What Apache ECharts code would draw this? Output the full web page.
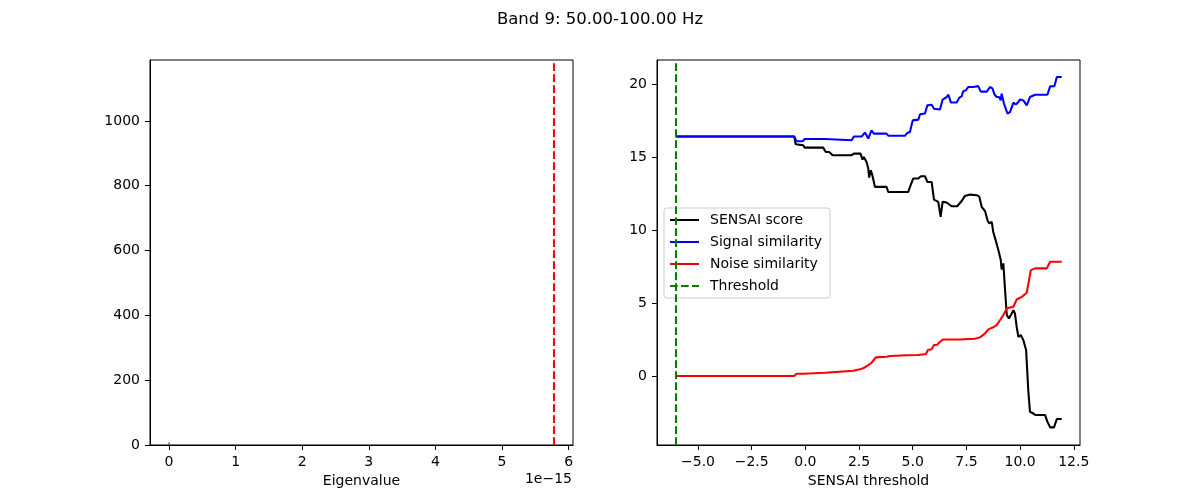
<!DOCTYPE html>
<html>
<head>
<meta charset="utf-8">
<script src="https://cdn.jsdelivr.net/npm/echarts@6/dist/echarts.min.js"></script>
<style>
	html, body { margin: 0; padding: 0; background: #fff; }
	#chart { width: 1200px; height: 500px; }
</style>
</head>
<body>
<div id="chart"></div>
<script>
// Left panel: eigenvalues (x in units of 1e-15)
var histX = [0];
var histCounts = [9];
var maxEigen = 5.78;
var eigenTicks = [0, 1, 2, 3, 4, 5, 6];
var countTicks = [0, 200, 400, 600, 800, 1000];

// Right panel: curves over SENSAI threshold
var scoreX = [-6.04, -0.52, -0.45, -0.38, -0.10, -0.03, 0.83, 0.95, 1.11, 1.27, 2.15, 2.26, 2.57, 2.66, 2.72, 2.85, 2.93, 2.97, 3.05, 3.13, 3.24, 3.78, 3.86, 4.79, 4.90, 5.02, 5.26, 5.38, 5.57, 5.68, 5.88, 5.99, 6.19, 6.30, 6.39, 6.58, 6.66, 6.81, 7.07, 7.28, 7.43, 7.67, 7.98, 8.10, 8.21, 8.37, 8.49, 8.57, 8.68, 8.75, 8.86, 8.99, 9.10, 9.14, 9.22, 9.30, 9.38, 9.48, 9.61, 9.69, 9.76, 9.84, 9.92, 10.03, 10.15, 10.28, 10.38, 10.46, 10.59, 10.70, 11.16, 11.27, 11.40, 11.58, 11.71, 11.94];
var scoreY = [16.43, 16.43, 15.89, 15.82, 15.82, 15.66, 15.66, 15.36, 15.36, 15.14, 15.14, 15.25, 15.25, 14.84, 15.02, 14.68, 14.22, 13.61, 14.11, 13.70, 12.97, 12.97, 12.62, 12.62, 13.08, 13.54, 13.54, 13.70, 13.70, 13.31, 13.31, 12.10, 11.94, 10.91, 11.94, 11.90, 12.00, 11.64, 11.64, 12.00, 12.35, 12.44, 12.40, 12.30, 11.60, 11.30, 10.64, 10.46, 10.57, 9.88, 9.32, 8.63, 7.95, 7.31, 7.72, 5.89, 4.18, 3.95, 4.29, 4.52, 4.29, 3.38, 2.69, 2.81, 2.47, 1.78, -0.96, -2.45, -2.55, -2.67, -2.67, -3.13, -3.52, -3.52, -2.95, -2.95];

var signalX = [-6.04, -0.52, -0.41, -0.13, -0.03, 0.91, 0.99, 2.15, 2.26, 2.62, 2.77, 2.85, 2.93, 3.00, 3.08, 3.19, 3.78, 3.86, 4.64, 4.74, 4.87, 5.00, 5.26, 5.34, 5.57, 5.68, 5.88, 5.99, 6.27, 6.39, 6.58, 6.66, 6.78, 7.05, 7.17, 7.28, 7.35, 7.47, 7.59, 7.82, 8.05, 8.17, 8.45, 8.60, 8.72, 8.80, 8.91, 9.02, 9.10, 9.14, 9.25, 9.41, 9.53, 9.69, 9.80, 9.92, 10.00, 10.15, 10.31, 10.46, 10.70, 11.27, 11.40, 11.60, 11.71, 11.94];
var signalY = [16.43, 16.43, 16.10, 16.10, 16.25, 16.25, 16.17, 16.17, 16.42, 16.42, 16.69, 16.51, 16.28, 16.16, 16.85, 16.62, 16.62, 16.48, 16.48, 16.66, 16.73, 17.53, 17.58, 17.95, 18.00, 18.56, 18.60, 18.33, 18.27, 18.95, 19.13, 19.29, 18.75, 18.75, 19.09, 19.18, 19.52, 19.59, 19.82, 19.82, 19.88, 19.50, 19.50, 19.82, 19.70, 19.32, 19.13, 19.13, 18.90, 19.36, 18.68, 18.00, 18.10, 18.75, 18.62, 18.79, 18.97, 18.90, 18.56, 19.13, 19.29, 19.29, 19.86, 19.88, 20.50, 20.50];

var noiseX = [-6.04, -0.52, -0.41, -0.10, -0.03, 0.91, 0.99, 2.23, 2.54, 2.69, 2.93, 3.08, 3.28, 3.78, 3.94, 4.72, 5.26, 5.62, 5.70, 5.88, 5.99, 6.14, 6.27, 6.42, 7.20, 7.90, 8.13, 8.37, 8.52, 8.75, 8.91, 9.07, 9.22, 9.38, 9.69, 9.84, 10.08, 10.31, 10.50, 10.70, 11.24, 11.40, 11.94];
var noiseY = [0, 0, 0.16, 0.16, 0.23, 0.23, 0.34, 0.36, 0.46, 0.53, 0.75, 0.91, 1.28, 1.32, 1.37, 1.42, 1.44, 1.51, 1.78, 1.83, 2.12, 2.14, 2.35, 2.51, 2.51, 2.55, 2.65, 2.92, 3.20, 3.34, 3.49, 3.84, 4.18, 4.64, 4.75, 5.25, 5.43, 5.71, 7.26, 7.38, 7.38, 7.83, 7.83];

var threshold = -6.04;
var thresholdTicks = [-5, -2.5, 0, 2.5, 5, 7.5, 10, 12.5];
var valueTicks = [0, 5, 10, 15, 20];

var font = 'DejaVu Sans';
var lw = 2.08;	// 1.5pt at 100 dpi
var dash = [7.7, 3.3];

function Zip(xs, ys) {	// pairs for value axes
	let out = [];
	for (let i = 0; i < xs.length; i++) out.push([xs[i], ys[i]]);
	return out;
}
function Minus(v) {	// matplotlib-style minus sign
	return String(v).replace('-', '\u2212');
}
function ValueAxis(idx, min, max, ticks, fmt, name, nameGap) {
	return {
		type: 'value',
		gridIndex: idx,
		min: min,
		max: max,
		splitLine: { show: false },
		axisLine: { show: true, onZero: false, lineStyle: { color: '#000', width: 1 } },
		axisTick: { show: true, length: 5, customValues: ticks, lineStyle: { color: '#000' } },
		axisLabel: { customValues: ticks, formatter: fmt, color: '#000', fontFamily: font, fontSize: 14, margin: 10 },
		name: name || '',
		nameLocation: 'middle',
		nameGap: nameGap || 0,
		nameTextStyle: { color: '#000', fontFamily: font, fontSize: 14, verticalAlign: 'top' }
	};
}
function Curve(name, xs, ys, color) {
	return {
		name: name,
		type: 'line',
		xAxisIndex: 1,
		yAxisIndex: 1,
		data: Zip(xs, ys),
		symbol: 'none',
		itemStyle: { color: color },
		lineStyle: { color: color, width: lw }
	};
}

var chart = echarts.init(document.getElementById('chart'), null, { renderer: 'canvas' });

chart.setOption({
	animation: false,
	backgroundColor: '#fff',
	title: {
		text: 'Band 9: 50.00-100.00 Hz',
		left: 'center',
		top: 6,
		textStyle: { fontFamily: font, fontSize: 16.5, fontWeight: 'normal', color: '#000' }
	},
	grid: [
		{ left: 150, top: 60, width: 423, height: 385, show: true, borderColor: '#000', borderWidth: 1, backgroundColor: 'transparent' },
		{ left: 657, top: 60, width: 423, height: 385, show: true, borderColor: '#000', borderWidth: 1, backgroundColor: 'transparent' }
	],
	xAxis: [
		ValueAxis(0, -0.2855, 6.066, eigenTicks, function(v) { return String(v); }, 'Eigenvalue', 28),
		ValueAxis(1, -6.91, 12.79, thresholdTicks, function(v) { return Minus(v.toFixed(1)); }, 'SENSAI threshold', 28)
	],
	yAxis: [
		ValueAxis(0, 0, 1188, countTicks, function(v) { return String(v); }),
		ValueAxis(1, -4.73, 21.67, valueTicks, function(v) { return Minus(v); })
	],
	legend: {
		data: ['SENSAI score', 'Signal similarity', 'Noise similarity', 'Threshold'],
		orient: 'vertical',
		left: 664,
		top: 208,
		padding: [5, 8, 5, 5],
		itemWidth: 29,
		itemHeight: 14,
		itemGap: 8,
		itemStyle: { opacity: 0 },
		backgroundColor: 'rgba(255,255,255,0.8)',
		borderColor: '#cccccc',
		borderWidth: 1,
		borderRadius: 3,
		textStyle: { fontFamily: font, fontSize: 14, color: '#000', padding: [0, 0, 0, 6] }
	},
	series: [
		{
			name: 'hist',
			type: 'line',
			xAxisIndex: 0,
			yAxisIndex: 0,
			data: [[histX[0], 0], [histX[0], histCounts[0]]],
			symbol: 'none',
			lineStyle: { color: '#444', width: 1 }
		},
		{
			name: 'max eigenvalue',
			type: 'line',
			xAxisIndex: 0,
			yAxisIndex: 0,
			data: [],
			markLine: {
				silent: true,
				symbol: 'none',
				label: { show: false },
				lineStyle: { color: '#ff0000', width: lw, type: dash },
				data: [{ xAxis: maxEigen }]
			}
		},
		Curve('SENSAI score', scoreX, scoreY, '#000000'),
		Curve('Signal similarity', signalX, signalY, '#0000ff'),
		Curve('Noise similarity', noiseX, noiseY, '#ff0000'),
		{
			name: 'Threshold',
			type: 'line',
			xAxisIndex: 1,
			yAxisIndex: 1,
			data: [],
			symbol: 'none',
			itemStyle: { color: '#008000' },
			lineStyle: { color: '#008000', width: lw, type: dash },
			markLine: {
				silent: true,
				symbol: 'none',
				label: { show: false },
				lineStyle: { color: '#008000', width: lw, type: dash },
				data: [{ xAxis: threshold }]
			}
		}
	],
	graphic: [
		{
			type: 'text',
			right: 1200 - 572,
			top: 472,
			style: { text: '1e\u221215', fill: '#000', font: '14px "DejaVu Sans"' }
		}
	]
});
</script>
</body>
</html>
